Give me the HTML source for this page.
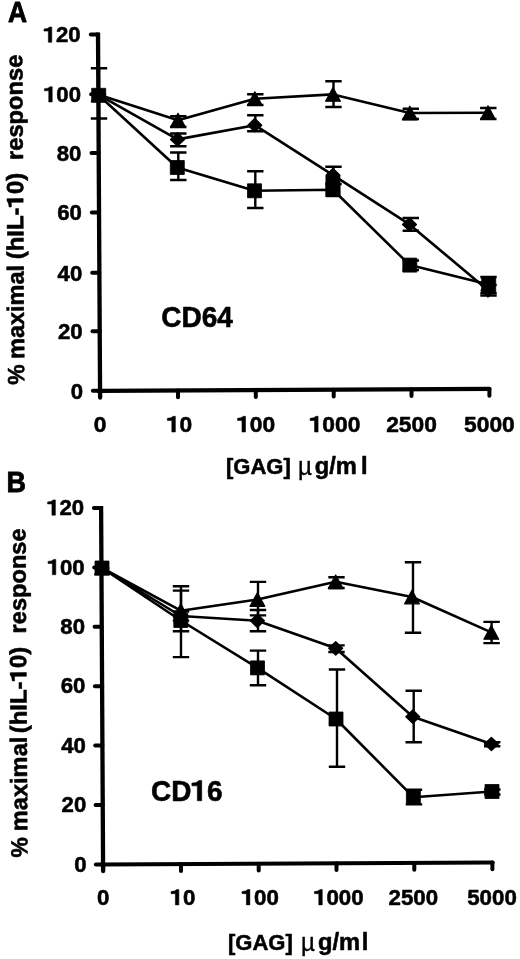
<!DOCTYPE html>
<html><head><meta charset="utf-8"><title>Figure</title>
<style>
html,body{margin:0;padding:0;background:#fff;}
body{width:520px;height:959px;overflow:hidden;}
svg{display:block;}
text{font-family:"Liberation Sans",sans-serif;font-weight:bold;fill:#000;stroke:#000;stroke-linejoin:round;font-kerning:none;}
</style></head><body>
<svg width="520" height="959" viewBox="0 0 520 959">
<rect width="520" height="959" fill="#fff"/>
<defs><filter id="soft" x="0" y="0" width="100%" height="100%" filterUnits="userSpaceOnUse"><feGaussianBlur stdDeviation="0.35"/></filter></defs>
<g filter="url(#soft)">

<path d="M98.0,32.6L100.1,397.5" stroke="#000" stroke-width="4.3" fill="none"/>
<path d="M98.5,390.9L489.5,388.9" stroke="#000" stroke-width="4.1" stroke-linecap="round" fill="none"/>
<path d="M90.81,34.6H98.01" stroke="#000" stroke-width="4.0" stroke-linecap="round" fill="none"/>
<path d="M91.16,94.3H98.36" stroke="#000" stroke-width="4.0" stroke-linecap="round" fill="none"/>
<path d="M91.49,153.1H98.69" stroke="#000" stroke-width="4.0" stroke-linecap="round" fill="none"/>
<path d="M91.84,212.5H99.04" stroke="#000" stroke-width="4.0" stroke-linecap="round" fill="none"/>
<path d="M92.18,272.8H99.38" stroke="#000" stroke-width="4.0" stroke-linecap="round" fill="none"/>
<path d="M92.52,331.2H99.72" stroke="#000" stroke-width="4.0" stroke-linecap="round" fill="none"/>
<path d="M92.86,390.8H100.06" stroke="#000" stroke-width="4.0" stroke-linecap="round" fill="none"/>
<path d="M100.1,390.89V397.69" stroke="#000" stroke-width="4.0" stroke-linecap="round" fill="none"/>
<path d="M178,390.49V397.29" stroke="#000" stroke-width="4.0" stroke-linecap="round" fill="none"/>
<path d="M255.8,390.10V396.90" stroke="#000" stroke-width="4.0" stroke-linecap="round" fill="none"/>
<path d="M333.7,389.70V396.50" stroke="#000" stroke-width="4.0" stroke-linecap="round" fill="none"/>
<path d="M411.5,389.30V396.10" stroke="#000" stroke-width="4.0" stroke-linecap="round" fill="none"/>
<path d="M489.4,388.90V395.70" stroke="#000" stroke-width="4.0" stroke-linecap="round" fill="none"/>
<g transform="translate(80.60,42.30)"><path transform="translate(-37.04,0) scale(0.01084,-0.01084)" d="M440 0V1035H40V1225Q420 1240 565 1409H759V0Z" fill="#000" stroke="#000" stroke-width="50.7" stroke-linejoin="round"/><text x="-24.69 -12.35" y="0" font-size="22.2" stroke-width="0.55">20</text></g>
<g transform="translate(81.02,102.00)"><path transform="translate(-37.04,0) scale(0.01084,-0.01084)" d="M440 0V1035H40V1225Q420 1240 565 1409H759V0Z" fill="#000" stroke="#000" stroke-width="50.7" stroke-linejoin="round"/><text x="-24.69 -12.35" y="0" font-size="22.2" stroke-width="0.55">00</text></g>
<g transform="translate(81.43,160.80)"><text x="-24.69 -12.35" y="0" font-size="22.2" stroke-width="0.55">80</text></g>
<g transform="translate(81.85,220.20)"><text x="-24.69 -12.35" y="0" font-size="22.2" stroke-width="0.55">60</text></g>
<g transform="translate(82.27,280.50)"><text x="-24.69 -12.35" y="0" font-size="22.2" stroke-width="0.55">40</text></g>
<g transform="translate(82.68,338.90)"><text x="-24.69 -12.35" y="0" font-size="22.2" stroke-width="0.55">20</text></g>
<g transform="translate(83.09,398.50)"><text x="-12.35" y="0" font-size="22.2" stroke-width="0.55">0</text></g>
<g transform="translate(100.10,432.00)"><text x="-6.34" y="0" font-size="22.8" stroke-width="0.55">0</text></g>
<g transform="translate(179.60,432.00)"><path transform="translate(-12.68,0) scale(0.01113,-0.01113)" d="M440 0V1035H40V1225Q420 1240 565 1409H759V0Z" fill="#000" stroke="#000" stroke-width="49.4" stroke-linejoin="round"/><text x="0.00" y="0" font-size="22.8" stroke-width="0.55">0</text></g>
<g transform="translate(256.10,432.00)"><path transform="translate(-19.02,0) scale(0.01113,-0.01113)" d="M440 0V1035H40V1225Q420 1240 565 1409H759V0Z" fill="#000" stroke="#000" stroke-width="49.4" stroke-linejoin="round"/><text x="-6.34 6.34" y="0" font-size="22.8" stroke-width="0.55">00</text></g>
<g transform="translate(335.00,432.00)"><path transform="translate(-25.36,0) scale(0.01113,-0.01113)" d="M440 0V1035H40V1225Q420 1240 565 1409H759V0Z" fill="#000" stroke="#000" stroke-width="49.4" stroke-linejoin="round"/><text x="-12.68 0.00 12.68" y="0" font-size="22.8" stroke-width="0.55">000</text></g>
<g transform="translate(411.50,432.00)"><text x="-25.36 -12.68 0.00 12.68" y="0" font-size="22.8" stroke-width="0.55">2500</text></g>
<g transform="translate(489.40,432.00)"><text x="-25.36 -12.68 0.00 12.68" y="0" font-size="22.8" stroke-width="0.55">5000</text></g>
<path d="M99,68.3V118.5M90.8,68.3H107.2M90.8,118.5H107.2" stroke="#000" stroke-width="2.4" fill="none"/>
<path d="M178.3,116.3V127M170.10000000000002,116.3H186.5M170.10000000000002,127H186.5" stroke="#000" stroke-width="2.4" fill="none"/>
<path d="M178.3,133.5V146.2M170.10000000000002,133.5H186.5M170.10000000000002,146.2H186.5" stroke="#000" stroke-width="2.4" fill="none"/>
<path d="M178.3,152.5V180M170.10000000000002,152.5H186.5M170.10000000000002,180H186.5" stroke="#000" stroke-width="2.4" fill="none"/>
<path d="M255.3,94.2V105M247.10000000000002,94.2H263.5M247.10000000000002,105H263.5" stroke="#000" stroke-width="2.4" fill="none"/>
<path d="M255.3,115.3V131.3M247.10000000000002,115.3H263.5M247.10000000000002,131.3H263.5" stroke="#000" stroke-width="2.4" fill="none"/>
<path d="M255.3,171.3V208M247.10000000000002,171.3H263.5M247.10000000000002,208H263.5" stroke="#000" stroke-width="2.4" fill="none"/>
<path d="M333.5,81.3V107M325.3,81.3H341.7M325.3,107H341.7" stroke="#000" stroke-width="2.4" fill="none"/>
<path d="M333.5,166.7V184M325.3,166.7H341.7M325.3,184H341.7" stroke="#000" stroke-width="2.4" fill="none"/>
<path d="M410.8,108.7V119M402.6,108.7H419.0M402.6,119H419.0" stroke="#000" stroke-width="2.4" fill="none"/>
<path d="M410.8,218V230.8M402.6,218H419.0M402.6,230.8H419.0" stroke="#000" stroke-width="2.4" fill="none"/>
<path d="M410.8,260.5V270M402.6,260.5H419.0M402.6,270H419.0" stroke="#000" stroke-width="2.4" fill="none"/>
<path d="M488.3,108V119M480.1,108H496.5M480.1,119H496.5" stroke="#000" stroke-width="2.4" fill="none"/>
<path d="M488.5,277V293M480.3,277H496.7M480.3,293H496.7" stroke="#000" stroke-width="2.4" fill="none"/>
<path d="M488.5,285V295.5M480.3,285H496.7M480.3,295.5H496.7" stroke="#000" stroke-width="2.4" fill="none"/>
<polyline points="98.7,94.8 178,120.2 254.8,98.7 333,94.4 409.8,113 488,112.7" stroke="#000" stroke-width="2.6" fill="none" stroke-linejoin="round"/>
<polyline points="98.7,94.8 177.5,139.4 254.8,125.2 333,175.2 409.5,224.4 488,290.3" stroke="#000" stroke-width="2.6" fill="none" stroke-linejoin="round"/>
<polyline points="98.7,95.3 177.3,167.5 254.5,190.8 333.0,189.8 409.8,265.1 488.7,284.5" stroke="#000" stroke-width="2.6" fill="none" stroke-linejoin="round"/>
<polygon points="98.7,88.0 106.10000000000001,101.6 91.3,101.6" fill="#000" stroke="#000" stroke-width="1.2" stroke-linejoin="round"/>
<polygon points="178,113.4 185.4,127.0 170.6,127.0" fill="#000" stroke="#000" stroke-width="1.2" stroke-linejoin="round"/>
<polygon points="254.8,91.9 262.2,105.5 247.4,105.5" fill="#000" stroke="#000" stroke-width="1.2" stroke-linejoin="round"/>
<polygon points="333,87.60000000000001 340.4,101.2 325.6,101.2" fill="#000" stroke="#000" stroke-width="1.2" stroke-linejoin="round"/>
<polygon points="409.8,106.2 417.2,119.8 402.40000000000003,119.8" fill="#000" stroke="#000" stroke-width="1.2" stroke-linejoin="round"/>
<polygon points="488,105.9 495.4,119.5 480.6,119.5" fill="#000" stroke="#000" stroke-width="1.2" stroke-linejoin="round"/>
<polygon points="98.7,88.2 105.60000000000001,94.8 98.7,101.39999999999999 91.8,94.8" fill="#000" stroke="#000" stroke-width="1.4" stroke-linejoin="round"/>
<polygon points="177.5,132.8 184.4,139.4 177.5,146.0 170.6,139.4" fill="#000" stroke="#000" stroke-width="1.4" stroke-linejoin="round"/>
<polygon points="254.8,118.60000000000001 261.7,125.2 254.8,131.8 247.9,125.2" fill="#000" stroke="#000" stroke-width="1.4" stroke-linejoin="round"/>
<polygon points="333,168.6 339.9,175.2 333,181.79999999999998 326.1,175.2" fill="#000" stroke="#000" stroke-width="1.4" stroke-linejoin="round"/>
<polygon points="409.5,217.8 416.4,224.4 409.5,231.0 402.6,224.4" fill="#000" stroke="#000" stroke-width="1.4" stroke-linejoin="round"/>
<polygon points="488,283.7 494.9,290.3 488,296.90000000000003 481.1,290.3" fill="#000" stroke="#000" stroke-width="1.4" stroke-linejoin="round"/>
<rect x="91.70" y="88.30" width="14.0" height="14.0" fill="#000" stroke="#000" stroke-width="0.8" stroke-linejoin="round"/>
<rect x="170.30" y="160.50" width="14.0" height="14.0" fill="#000" stroke="#000" stroke-width="0.8" stroke-linejoin="round"/>
<rect x="247.50" y="183.80" width="14.0" height="14.0" fill="#000" stroke="#000" stroke-width="0.8" stroke-linejoin="round"/>
<rect x="326.00" y="182.80" width="14.0" height="14.0" fill="#000" stroke="#000" stroke-width="0.8" stroke-linejoin="round"/>
<rect x="402.80" y="258.10" width="14.0" height="14.0" fill="#000" stroke="#000" stroke-width="0.8" stroke-linejoin="round"/>
<rect x="481.70" y="277.50" width="14.0" height="14.0" fill="#000" stroke="#000" stroke-width="0.8" stroke-linejoin="round"/>
<rect x="325.5" y="176" width="14.8" height="21" fill="#000"/>
<g transform="translate(161.30,327.40) scale(0.9550,1.0000)"><text x="0.00 21.16 42.32 58.61" y="0" font-size="29.3" stroke-width="0.6">CD64</text></g>
<g transform="translate(8.00,22.00) scale(0.9100,1.0000)"><text x="0.00" y="0" font-size="29" stroke-width="0.8">A</text></g>
<g transform="translate(24.29,384.70) rotate(-90.33) scale(0.9763,1.0000)"><text x="0.00" y="0" font-size="23.5" stroke-width="0.55">%</text></g>
<g transform="translate(24.13,359.00) rotate(-90.33) scale(0.9994,1.0000)"><text x="0.00 20.90 33.96 47.03 53.56 74.46 87.53" y="0" font-size="23.5" stroke-width="0.55">maximal</text></g>
<g transform="translate(23.52,259.30) rotate(-90.33) scale(1.0194,1.0000)"><path transform="translate(50.89,0) scale(0.01147,-0.01147)" d="M440 0V1035H40V1225Q420 1240 565 1409H759V0Z" fill="#000" stroke="#000" stroke-width="47.9" stroke-linejoin="round"/><text x="0.00 7.83 22.18 28.71 43.06 63.96 77.03" y="0" font-size="23.5" stroke-width="0.55">(hIL-0)</text></g>
<g transform="translate(22.90,160.00) rotate(-90.33) scale(1.0097,1.0000)"><text x="0.00 9.15 22.21 35.28 49.64 63.99 78.35 91.42" y="0" font-size="23.5" stroke-width="0.55">response</text></g>
<g transform="translate(226.00,473.50)"><text x="0.00 7.33 24.44 40.33 57.44" y="0" font-size="22" stroke-width="0.55">[GAG]</text></g>
<text transform="translate(298,474.5) scale(1.15,1.25)" font-size="21" style="font-weight:normal" stroke-width="0.3">µ</text>
<g transform="translate(314.70,473.50)"><text x="0.00 14.48 21.06" y="0" font-size="23.7" stroke-width="0.55">g/m</text></g>
<g transform="translate(361.00,473.50)"><text x="0.00" y="0" font-size="23.7" stroke-width="0.55">l</text></g>
<path d="M101.1,506L103.1,871" stroke="#000" stroke-width="4.3" fill="none"/>
<path d="M101.5,864.5L492.7,862.5" stroke="#000" stroke-width="4.1" stroke-linecap="round" fill="none"/>
<path d="M93.91,508H101.11" stroke="#000" stroke-width="4.0" stroke-linecap="round" fill="none"/>
<path d="M94.24,567.5H101.44" stroke="#000" stroke-width="4.0" stroke-linecap="round" fill="none"/>
<path d="M94.56,626.8H101.76" stroke="#000" stroke-width="4.0" stroke-linecap="round" fill="none"/>
<path d="M94.89,686.2H102.09" stroke="#000" stroke-width="4.0" stroke-linecap="round" fill="none"/>
<path d="M95.21,745.6H102.41" stroke="#000" stroke-width="4.0" stroke-linecap="round" fill="none"/>
<path d="M95.54,805H102.74" stroke="#000" stroke-width="4.0" stroke-linecap="round" fill="none"/>
<path d="M95.86,864.4H103.06" stroke="#000" stroke-width="4.0" stroke-linecap="round" fill="none"/>
<path d="M103.1,864.49V871.29" stroke="#000" stroke-width="4.0" stroke-linecap="round" fill="none"/>
<path d="M181,864.09V870.89" stroke="#000" stroke-width="4.0" stroke-linecap="round" fill="none"/>
<path d="M258.7,863.70V870.50" stroke="#000" stroke-width="4.0" stroke-linecap="round" fill="none"/>
<path d="M336.5,863.30V870.10" stroke="#000" stroke-width="4.0" stroke-linecap="round" fill="none"/>
<path d="M414.3,862.90V869.70" stroke="#000" stroke-width="4.0" stroke-linecap="round" fill="none"/>
<path d="M492.4,862.50V869.30" stroke="#000" stroke-width="4.0" stroke-linecap="round" fill="none"/>
<g transform="translate(84.20,515.20)"><path transform="translate(-37.04,0) scale(0.01084,-0.01084)" d="M440 0V1035H40V1225Q420 1240 565 1409H759V0Z" fill="#000" stroke="#000" stroke-width="50.7" stroke-linejoin="round"/><text x="-24.69 -12.35" y="0" font-size="22.2" stroke-width="0.55">20</text></g>
<g transform="translate(84.62,574.70)"><path transform="translate(-37.04,0) scale(0.01084,-0.01084)" d="M440 0V1035H40V1225Q420 1240 565 1409H759V0Z" fill="#000" stroke="#000" stroke-width="50.7" stroke-linejoin="round"/><text x="-24.69 -12.35" y="0" font-size="22.2" stroke-width="0.55">00</text></g>
<g transform="translate(85.03,634.00)"><text x="-24.69 -12.35" y="0" font-size="22.2" stroke-width="0.55">80</text></g>
<g transform="translate(85.45,693.40)"><text x="-24.69 -12.35" y="0" font-size="22.2" stroke-width="0.55">60</text></g>
<g transform="translate(85.86,752.80)"><text x="-24.69 -12.35" y="0" font-size="22.2" stroke-width="0.55">40</text></g>
<g transform="translate(86.28,812.20)"><text x="-24.69 -12.35" y="0" font-size="22.2" stroke-width="0.55">20</text></g>
<g transform="translate(86.69,871.60)"><text x="-12.35" y="0" font-size="22.2" stroke-width="0.55">0</text></g>
<g transform="translate(103.10,904.90)"><text x="-6.20" y="0" font-size="22.3" stroke-width="0.55">0</text></g>
<g transform="translate(183.00,904.90)"><path transform="translate(-12.40,0) scale(0.01089,-0.01089)" d="M440 0V1035H40V1225Q420 1240 565 1409H759V0Z" fill="#000" stroke="#000" stroke-width="50.5" stroke-linejoin="round"/><text x="0.00" y="0" font-size="22.3" stroke-width="0.55">0</text></g>
<g transform="translate(260.20,904.90)"><path transform="translate(-18.60,0) scale(0.01089,-0.01089)" d="M440 0V1035H40V1225Q420 1240 565 1409H759V0Z" fill="#000" stroke="#000" stroke-width="50.5" stroke-linejoin="round"/><text x="-6.20 6.20" y="0" font-size="22.3" stroke-width="0.55">00</text></g>
<g transform="translate(338.80,904.90)"><path transform="translate(-24.80,0) scale(0.01089,-0.01089)" d="M440 0V1035H40V1225Q420 1240 565 1409H759V0Z" fill="#000" stroke="#000" stroke-width="50.5" stroke-linejoin="round"/><text x="-12.40 0.00 12.40" y="0" font-size="22.3" stroke-width="0.55">000</text></g>
<g transform="translate(413.30,904.90)"><text x="-24.80 -12.40 0.00 12.40" y="0" font-size="22.3" stroke-width="0.55">2500</text></g>
<g transform="translate(492.00,904.90)"><text x="-24.80 -12.40 0.00 12.40" y="0" font-size="22.3" stroke-width="0.55">5000</text></g>
<path d="M181,586.3V657.1M172.8,586.3H189.2M172.8,657.1H189.2" stroke="#000" stroke-width="2.4" fill="none"/>
<path d="M181,590.6V631.2M172.8,590.6H189.2M172.8,631.2H189.2" stroke="#000" stroke-width="2.4" fill="none"/>
<path d="M181,611.5V620.6M172.8,611.5H189.2M172.8,620.6H189.2" stroke="#000" stroke-width="2.4" fill="none"/>
<path d="M258,581.9V615.4M249.8,581.9H266.2M249.8,615.4H266.2" stroke="#000" stroke-width="2.4" fill="none"/>
<path d="M258,610V631.2M249.8,610H266.2M249.8,631.2H266.2" stroke="#000" stroke-width="2.4" fill="none"/>
<path d="M258,650.6V685.2M249.8,650.6H266.2M249.8,685.2H266.2" stroke="#000" stroke-width="2.4" fill="none"/>
<path d="M336.5,577.3V588M328.3,577.3H344.7M328.3,588H344.7" stroke="#000" stroke-width="2.4" fill="none"/>
<path d="M336.5,645.4V652M328.3,645.4H344.7M328.3,652H344.7" stroke="#000" stroke-width="2.4" fill="none"/>
<path d="M337,669.5V766.8M328.8,669.5H345.2M328.8,766.8H345.2" stroke="#000" stroke-width="2.4" fill="none"/>
<path d="M413,562.2V632.7M404.8,562.2H421.2M404.8,632.7H421.2" stroke="#000" stroke-width="2.4" fill="none"/>
<path d="M413.7,690.8V742.3M405.5,690.8H421.9M405.5,742.3H421.9" stroke="#000" stroke-width="2.4" fill="none"/>
<path d="M414,789.7V804.4M405.8,789.7H422.2M405.8,804.4H422.2" stroke="#000" stroke-width="2.4" fill="none"/>
<path d="M491.6,621.9V643.1M483.40000000000003,621.9H499.8M483.40000000000003,643.1H499.8" stroke="#000" stroke-width="2.4" fill="none"/>
<path d="M492.2,742.2V746.3M484.0,742.2H500.4M484.0,746.3H500.4" stroke="#000" stroke-width="2.4" fill="none"/>
<path d="M492.3,789.5V794.5M484.1,789.5H500.5M484.1,794.5H500.5" stroke="#000" stroke-width="2.4" fill="none"/>
<polyline points="102,568 180.8,610.7 257.4,599.5 335.7,581.8 412,597 491.3,632.4" stroke="#000" stroke-width="2.6" fill="none" stroke-linejoin="round"/>
<polyline points="102,568 180.8,616 257.4,620.8 335.7,648.3 412.8,716.7 491.4,744" stroke="#000" stroke-width="2.6" fill="none" stroke-linejoin="round"/>
<polyline points="102,568 180.8,620.5 257.5,667.9 336,719 413.4,797.2 492,791.5" stroke="#000" stroke-width="2.6" fill="none" stroke-linejoin="round"/>
<polygon points="102,561.2 109.4,574.8 94.6,574.8" fill="#000" stroke="#000" stroke-width="1.2" stroke-linejoin="round"/>
<polygon points="180.8,603.9000000000001 188.20000000000002,617.5 173.4,617.5" fill="#000" stroke="#000" stroke-width="1.2" stroke-linejoin="round"/>
<polygon points="257.4,592.7 264.79999999999995,606.3 249.99999999999997,606.3" fill="#000" stroke="#000" stroke-width="1.2" stroke-linejoin="round"/>
<polygon points="335.7,575.0 343.09999999999997,588.5999999999999 328.3,588.5999999999999" fill="#000" stroke="#000" stroke-width="1.2" stroke-linejoin="round"/>
<polygon points="412,590.2 419.4,603.8 404.6,603.8" fill="#000" stroke="#000" stroke-width="1.2" stroke-linejoin="round"/>
<polygon points="491.3,625.6 498.7,639.1999999999999 483.90000000000003,639.1999999999999" fill="#000" stroke="#000" stroke-width="1.2" stroke-linejoin="round"/>
<polygon points="102,561.4 108.9,568 102,574.6 95.1,568" fill="#000" stroke="#000" stroke-width="1.4" stroke-linejoin="round"/>
<polygon points="180.8,609.4 187.70000000000002,616 180.8,622.6 173.9,616" fill="#000" stroke="#000" stroke-width="1.4" stroke-linejoin="round"/>
<polygon points="257.4,614.1999999999999 264.29999999999995,620.8 257.4,627.4 250.49999999999997,620.8" fill="#000" stroke="#000" stroke-width="1.4" stroke-linejoin="round"/>
<polygon points="335.7,641.6999999999999 342.59999999999997,648.3 335.7,654.9 328.8,648.3" fill="#000" stroke="#000" stroke-width="1.4" stroke-linejoin="round"/>
<polygon points="412.8,710.1 419.7,716.7 412.8,723.3000000000001 405.90000000000003,716.7" fill="#000" stroke="#000" stroke-width="1.4" stroke-linejoin="round"/>
<polygon points="491.4,737.4 498.29999999999995,744 491.4,750.6 484.5,744" fill="#000" stroke="#000" stroke-width="1.4" stroke-linejoin="round"/>
<rect x="95.00" y="561.00" width="14.0" height="14.0" fill="#000" stroke="#000" stroke-width="0.8" stroke-linejoin="round"/>
<rect x="173.80" y="613.50" width="14.0" height="14.0" fill="#000" stroke="#000" stroke-width="0.8" stroke-linejoin="round"/>
<rect x="250.50" y="660.90" width="14.0" height="14.0" fill="#000" stroke="#000" stroke-width="0.8" stroke-linejoin="round"/>
<rect x="329.00" y="712.00" width="14.0" height="14.0" fill="#000" stroke="#000" stroke-width="0.8" stroke-linejoin="round"/>
<rect x="406.40" y="790.20" width="14.0" height="14.0" fill="#000" stroke="#000" stroke-width="0.8" stroke-linejoin="round"/>
<rect x="485.00" y="784.50" width="14.0" height="14.0" fill="#000" stroke="#000" stroke-width="0.8" stroke-linejoin="round"/>
<g transform="translate(151.00,800.80) scale(0.9440,1.0000)"><path transform="translate(42.75,0) scale(0.01445,-0.01445)" d="M440 0V1035H40V1225Q420 1240 565 1409H759V0Z" fill="#000" stroke="#000" stroke-width="41.5" stroke-linejoin="round"/><text x="0.00 21.38 59.21" y="0" font-size="29.6" stroke-width="0.6">CD6</text></g>
<g transform="translate(6.60,491.80) scale(0.9300,1.0000)"><text x="0.00" y="0" font-size="29" stroke-width="0.8">B</text></g>
<g transform="translate(27.49,857.50) rotate(-90.33) scale(0.9763,1.0000)"><text x="0.00" y="0" font-size="23.5" stroke-width="0.55">%</text></g>
<g transform="translate(27.33,831.30) rotate(-90.33) scale(1.0068,1.0000)"><text x="0.00 20.90 33.96 47.03 53.56 74.46 87.53" y="0" font-size="23.5" stroke-width="0.55">maximal</text></g>
<g transform="translate(26.72,733.30) rotate(-90.33) scale(1.0194,1.0000)"><path transform="translate(50.89,0) scale(0.01147,-0.01147)" d="M440 0V1035H40V1225Q420 1240 565 1409H759V0Z" fill="#000" stroke="#000" stroke-width="47.9" stroke-linejoin="round"/><text x="0.00 7.83 22.18 28.71 43.06 63.96 77.03" y="0" font-size="23.5" stroke-width="0.55">(hIL-0)</text></g>
<g transform="translate(26.10,633.40) rotate(-90.33) scale(1.0049,1.0000)"><text x="0.00 9.15 22.21 35.28 49.64 63.99 78.35 91.42" y="0" font-size="23.5" stroke-width="0.55">response</text></g>
<g transform="translate(228.00,950.00)"><text x="0.00 7.33 24.44 40.33 57.44" y="0" font-size="22" stroke-width="0.55">[GAG]</text></g>
<text transform="translate(301,951) scale(1.15,1.25)" font-size="21" style="font-weight:normal" stroke-width="0.3">µ</text>
<g transform="translate(318.00,950.00)"><text x="0.00 14.48 21.06" y="0" font-size="23.7" stroke-width="0.55">g/m</text></g>
<g transform="translate(361.70,950.00)"><text x="0.00" y="0" font-size="23.7" stroke-width="0.55">l</text></g>
</g></svg></body></html>
